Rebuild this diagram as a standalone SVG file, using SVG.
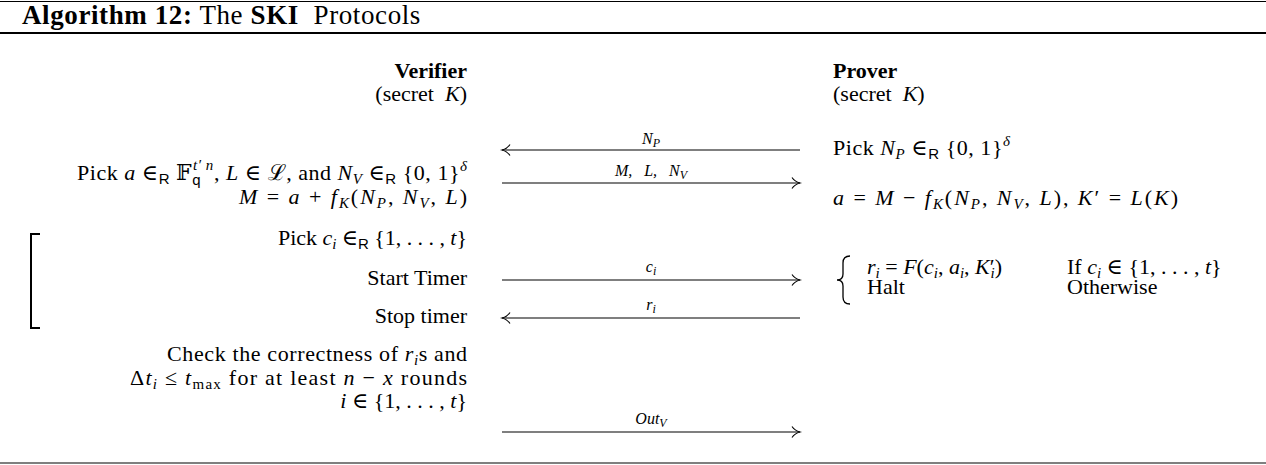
<svg xmlns="http://www.w3.org/2000/svg" width="1266" height="465" viewBox="0 0 1266 465">
<style>
.tx{font-family:"Liberation Serif","DejaVu Serif",serif;font-size:22px;fill:#000}
.ti{font-family:"Liberation Serif","DejaVu Serif",serif;font-size:27px;letter-spacing:0.6px;fill:#000}
.it{font-style:italic}
.bd{font-weight:bold}
.sb{font-size:15px}
.sf{font-family:"Liberation Sans",sans-serif}
.lb{font-family:"Liberation Serif",serif;font-size:16px;font-style:italic;fill:#000}
.ls{font-size:12px}
.rule{stroke:#000;fill:none}
.con{stroke:#000;stroke-width:1.1;fill:none;marker-end:url(#ah)}
</style>
<defs>
<marker id="ah" markerUnits="userSpaceOnUse" markerWidth="14" markerHeight="14" refX="0" refY="0" viewBox="-10 -7 12 14" orient="auto">
<path d="M-8,-5.5 C-6,-2.5 -2.5,-0.7 0,0 C-2.5,0.7 -6,2.5 -8,5.5" stroke="#000" stroke-width="1.1" fill="none"/>
</marker>
</defs>
<rect width="1266" height="465" fill="#fff"/>
<g id="frame">
<line class="rule" x1="0" y1="1.5" x2="1266" y2="1.5" stroke-width="1.2"/>
<line class="rule" x1="0" y1="33" x2="1266" y2="33" stroke-width="2"/>
<line class="rule" x1="0" y1="463" x2="1266" y2="463" stroke-width="1.2"/>
<text class="ti" x="22" y="24"><tspan class="bd">Algorithm 12:</tspan> The <tspan class="bd">SKI</tspan>&#160; Protocols</text>
</g>
<g id="verifier">
<text class="tx bd" x="467" y="78" text-anchor="end">Verifier</text>
<text class="tx" x="467" y="101" text-anchor="end">(secret&#160; <tspan class="it">K</tspan>)</text>
<text class="tx" x="77" y="180" textLength="390" lengthAdjust="spacing">Pick <tspan class="it">a</tspan> ∈<tspan class="sb sf" dy="4">R</tspan><tspan dy="-4"> 𝔽</tspan><tspan class="sb sf" dy="5">q</tspan><tspan class="sb it" dx="-8" dy="-15">t′ n</tspan><tspan dy="10">, </tspan><tspan class="it">L</tspan> ∈ ℒ, and <tspan class="it">N</tspan><tspan class="sb it" dy="4">V</tspan><tspan dy="-4"> ∈</tspan><tspan class="sb sf" dy="4">R</tspan><tspan dy="-4"> {0, 1}</tspan><tspan class="sb it" dy="-9">δ</tspan></text>
<text class="tx" x="239" y="204" textLength="228" lengthAdjust="spacing"><tspan class="it">M</tspan> = <tspan class="it">a</tspan> + <tspan class="it">f</tspan><tspan class="sb it" dy="4">K</tspan><tspan dy="-4">(</tspan><tspan class="it">N</tspan><tspan class="sb it" dy="4">P</tspan><tspan dy="-4">, </tspan><tspan class="it">N</tspan><tspan class="sb it" dy="4">V</tspan><tspan dy="-4">, </tspan><tspan class="it">L</tspan>)</text>
</g>
<g id="rounds">
<path class="rule" d="M40,234 L31,234 L31,328 L40,328" stroke-width="2"/>
<text class="tx" x="278" y="245" textLength="189" lengthAdjust="spacing">Pick <tspan class="it">c</tspan><tspan class="sb it" dy="4">i</tspan><tspan dy="-4"> ∈</tspan><tspan class="sb sf" dy="4">R</tspan><tspan dy="-4"> {1, . . . , </tspan><tspan class="it">t</tspan>}</text>
<text class="tx" x="467" y="285" text-anchor="end">Start Timer</text>
<text class="tx" x="467" y="323" text-anchor="end">Stop timer</text>
</g>
<g id="check">
<text class="tx" x="167" y="361" textLength="300" lengthAdjust="spacing">Check the correctness of <tspan class="it">r</tspan><tspan class="sb it" dy="4">i</tspan><tspan dy="-4">s and</tspan></text>
<text class="tx" x="130" y="385" textLength="337" lengthAdjust="spacing">Δ<tspan class="it">t</tspan><tspan class="sb it" dy="4">i</tspan><tspan dy="-4"> ≤ </tspan><tspan class="it">t</tspan><tspan class="sb" dy="4">max</tspan><tspan dy="-4"> for at least </tspan><tspan class="it">n</tspan> − <tspan class="it">x</tspan> rounds</text>
<text class="tx" x="467" y="408" text-anchor="end"><tspan class="it">i</tspan> ∈ {1, . . . , <tspan class="it">t</tspan>}</text>
</g>
<g id="prover">
<text class="tx bd" x="833" y="78">Prover</text>
<text class="tx" x="833" y="101">(secret&#160; <tspan class="it">K</tspan>)</text>
<text class="tx" x="833" y="155" textLength="177" lengthAdjust="spacing">Pick <tspan class="it">N</tspan><tspan class="sb it" dy="4">P</tspan><tspan dy="-4"> ∈</tspan><tspan class="sb sf" dy="4">R</tspan><tspan dy="-4"> {0, 1}</tspan><tspan class="sb it" dy="-9">δ</tspan></text>
<text class="tx" x="833" y="205" textLength="345" lengthAdjust="spacing"><tspan class="it">a</tspan> = <tspan class="it">M</tspan> − <tspan class="it">f</tspan><tspan class="sb it" dy="4">K</tspan><tspan dy="-4">(</tspan><tspan class="it">N</tspan><tspan class="sb it" dy="4">P</tspan><tspan dy="-4">, </tspan><tspan class="it">N</tspan><tspan class="sb it" dy="4">V</tspan><tspan dy="-4">, </tspan><tspan class="it">L</tspan>), <tspan class="it">K</tspan>′ = <tspan class="it">L</tspan>(<tspan class="it">K</tspan>)</text>
</g>
<g id="response">
<path class="rule" d="M850,256 Q843,256 843,263 L843,274 Q843,280 837,280 Q843,280 843,286 L843,297 Q843,304 850,304" stroke-width="1.3"/>
<text class="tx" x="867" y="274"><tspan class="it">r</tspan><tspan class="sb it" dy="4">i</tspan><tspan dy="-4"> = </tspan><tspan class="it">F</tspan>(<tspan class="it">c</tspan><tspan class="sb it" dy="4">i</tspan><tspan dy="-4">, </tspan><tspan class="it">a</tspan><tspan class="sb it" dy="4">i</tspan><tspan dy="-4">, </tspan><tspan class="it">K</tspan>′<tspan class="sb it" dx="-4" dy="4">i</tspan><tspan dy="-4">)</tspan></text>
<text class="tx" x="1067" y="274">If <tspan class="it">c</tspan><tspan class="sb it" dy="4">i</tspan><tspan dy="-4"> ∈ {1, . . . , </tspan><tspan class="it">t</tspan>}</text>
<text class="tx" x="867" y="294">Halt</text>
<text class="tx" x="1067" y="294">Otherwise</text>
</g>
<g id="connectors">
<line class="con" x1="800" y1="150" x2="502" y2="150"/>
<text class="lb" x="651" y="144" text-anchor="middle">N<tspan class="ls" dy="3">P</tspan></text>
<line class="con" x1="502" y1="183" x2="800" y2="183"/>
<text class="lb" x="651" y="176" text-anchor="middle">M,&#160;&#160; L,&#160;&#160; N<tspan class="ls" dy="3">V</tspan></text>
<line class="con" x1="502" y1="280" x2="800" y2="280"/>
<text class="lb" x="651" y="272" text-anchor="middle">c<tspan class="ls" dy="3">i</tspan></text>
<line class="con" x1="800" y1="318" x2="502" y2="318"/>
<text class="lb" x="651" y="310" text-anchor="middle">r<tspan class="ls" dy="3">i</tspan></text>
<line class="con" x1="502" y1="432" x2="800" y2="432"/>
<text class="lb" x="651" y="424" text-anchor="middle">Out<tspan class="ls" dy="3">V</tspan></text>
</g>
</svg>
